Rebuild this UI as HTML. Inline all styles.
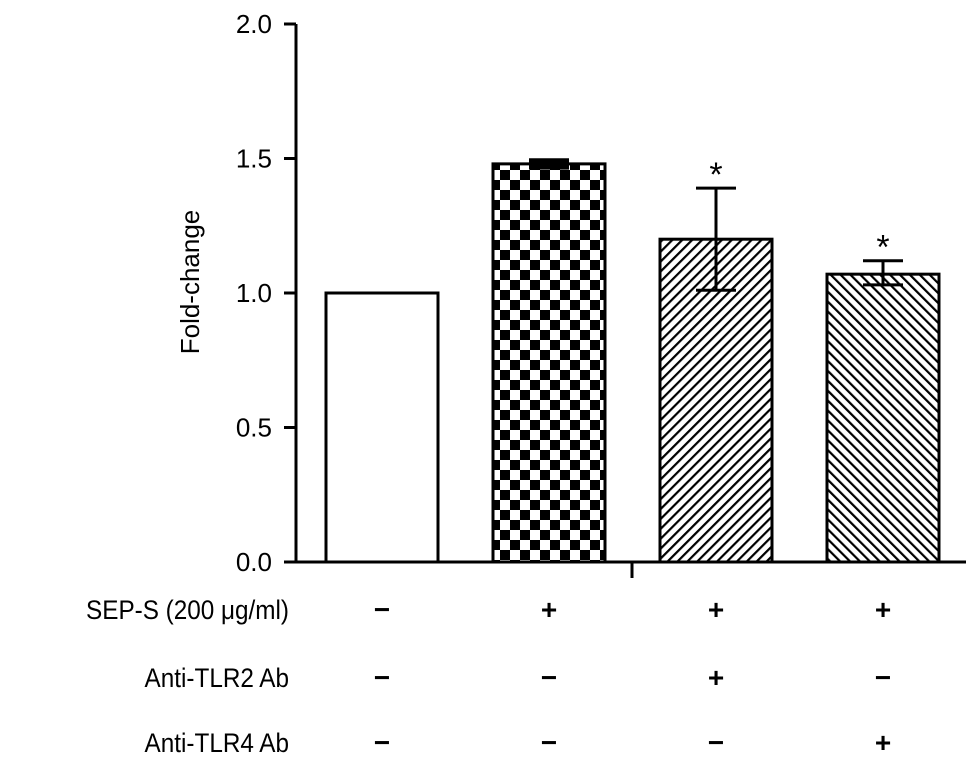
<!DOCTYPE html>
<html><head><meta charset="utf-8"><style>
body{margin:0;background:#fff;}
svg text{font-family:"Liberation Sans",Arial,sans-serif;fill:#000;}
</style></head><body>
<svg id="chart" width="979" height="768" viewBox="0 0 979 768" xmlns="http://www.w3.org/2000/svg">
<defs>
<pattern id="checker" width="20" height="20" patternUnits="userSpaceOnUse" x="490" y="0">
<rect width="20" height="20" fill="#fff"/><rect width="10" height="10" fill="#000"/><rect x="10" y="10" width="10" height="10" fill="#000"/>
</pattern>
<pattern id="hatchR" width="7" height="7" patternUnits="userSpaceOnUse" patternTransform="rotate(45)">
<rect width="7" height="7" fill="#fff"/><rect width="2.2" height="7" fill="#000"/>
</pattern>
<pattern id="hatchL" width="7" height="7" patternUnits="userSpaceOnUse" patternTransform="rotate(-45)">
<rect width="7" height="7" fill="#fff"/><rect width="2.2" height="7" fill="#000"/>
</pattern>
</defs>
<g id="plot"></g>
</svg>
<script>
const categories=["control","SEP-S","SEP-S+anti-TLR2","SEP-S+anti-TLR4"];
const values=[1.0,1.48,1.20,1.07];
const errUpper=[0,0.01,0.19,0.05];
const errLower=[0,0.01,0.19,0.04];
const significant=[false,false,true,true];
const yTicks=[0,0.5,1.0,1.5,2.0];
const yTickLabels=["0.0","0.5","1.0","1.5","2.0"];
const rowLabels=["SEP-S (200 \u03bcg/ml)","Anti-TLR2 Ab","Anti-TLR4 Ab"];
const rowSigns=[["\u2212","+","+","+"],["\u2212","\u2212","+","\u2212"],["\u2212","\u2212","\u2212","+"]];
const fills=["#fff","url(#checker)","url(#hatchR)","url(#hatchL)"];

const NS="http://www.w3.org/2000/svg";
const g=document.getElementById('plot');
const y0=562,yTop=24,yMax=2.0;
function y(v){return y0-(v/yMax)*(y0-yTop);}
const xStart=326,xStep=167,barW=112;
function xc(i){return xStart+barW/2+i*xStep;}
function mk(tag,attrs){const e=document.createElementNS(NS,tag);for(const k in attrs)e.setAttribute(k,attrs[k]);g.appendChild(e);return e;}

values.forEach((v,i)=>{
  const r=mk('rect',{x:xc(i)-barW/2,y:y(v),width:barW,height:y0-y(v),fill:fills[i],stroke:'#000','stroke-width':3});
  
  
  if(errUpper[i]>0){
    const hi=y(v+errUpper[i]),lo=y(v-errLower[i]);
    const eb=mk('path',{d:`M${xc(i)} ${hi}V${lo}M${xc(i)-20} ${hi}H${xc(i)+20}M${xc(i)-20} ${lo}H${xc(i)+20}`,stroke:'#000','stroke-width':(errUpper[i]<0.02?6:3),fill:'none'});
    
    
  }
  if(significant[i]){
    const s=mk('text',{x:xc(i),y:y(v+errUpper[i])-2,'text-anchor':'middle','font-size':34});
    s.textContent='*';
    
    
  }
});

const ya=mk('path',{d:`M296 ${yTop}V${y0}`,stroke:'#000','stroke-width':3});


const xa=mk('path',{d:`M285 ${y0}H966M632 ${y0}V578`,stroke:'#000','stroke-width':3});


yTicks.forEach((t,i)=>{
  const tk=mk('path',{d:`M284 ${y(t)}H296`,stroke:'#000','stroke-width':3});
  
  
  const l=mk('text',{x:272,y:y(t)+9,'text-anchor':'end','font-size':26});
  l.textContent=yTickLabels[i];
  
  
});
const yt=mk('text',{x:0,y:0,'text-anchor':'middle','font-size':26,transform:'translate(199 282) rotate(-90)'});
yt.textContent='Fold-change';



const rowY=[610,678,743];
rowLabels.forEach((lab,r)=>{
  const t=mk('text',{x:0,y:0,'text-anchor':'end','font-size':27,transform:`translate(289 ${rowY[r]+9}) scale(0.9 1)`});
  t.textContent=lab;
  
  
  rowSigns[r].forEach((s,i)=>{
    const st=mk('text',{x:xc(i),y:rowY[r]+9,'text-anchor':'middle','font-size':28,'font-weight':'bold'});
    st.textContent=s;
    
    
  });
});
</script>
</body></html>
